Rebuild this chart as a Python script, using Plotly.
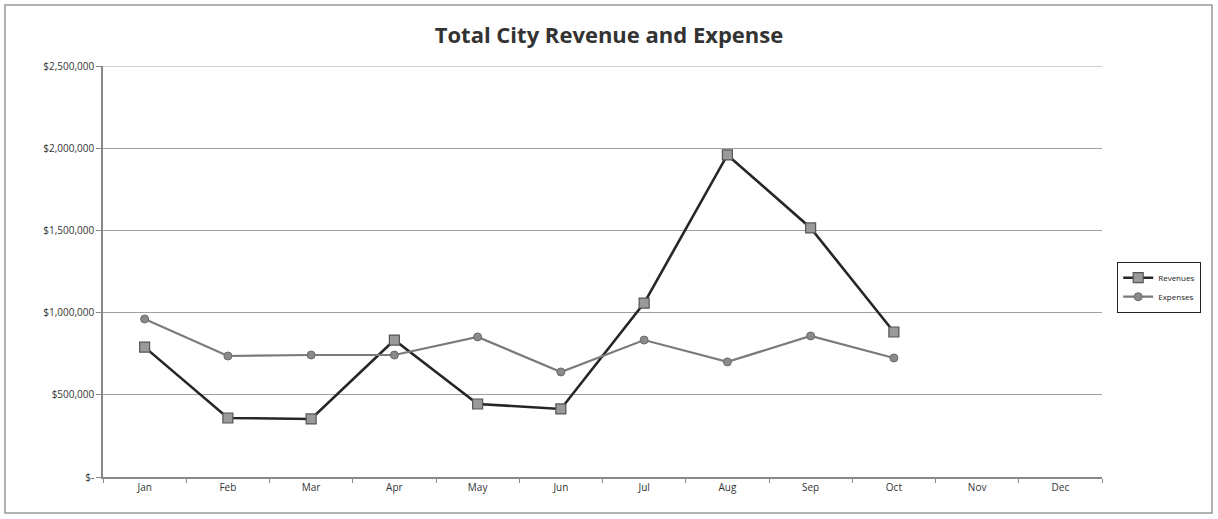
import plotly.graph_objects as go

months = ["Jan", "Feb", "Mar", "Apr", "May", "Jun", "Jul", "Aug", "Sep", "Oct", "Nov", "Dec"]
revenues = [790000, 359000, 353000, 833000, 444000, 414000, 1058000, 1959000, 1515000, 882000, None, None]
expenses = [961000, 736000, 742000, 742000, 852000, 639000, 833000, 700000, 858000, 724000, None, None]
y_ticks = [0, 500000, 1000000, 1500000, 2000000, 2500000]
y_tick_labels = ["$-", "$500,000", "$1,000,000", "$1,500,000", "$2,000,000", "$2,500,000"]

W, H = 1218, 519
L, R, T, B = 103, 116, 66, 42

fig = go.Figure()
fig.add_trace(go.Scatter(
    x=months, y=revenues, name="Revenues", mode="lines+markers",
    line=dict(color="#262626", width=2.6),
    marker=dict(symbol="square", size=10, color="#9a9a9a", line=dict(color="#555555", width=1.2)),
))
fig.add_trace(go.Scatter(
    x=months, y=expenses, name="Expenses", mode="lines+markers",
    line=dict(color="#7a7a7a", width=2.2),
    marker=dict(symbol="circle", size=8, color="#8a8a8a", line=dict(color="#6a6a6a", width=1)),
))

pw = W - L - R
ph = H - T - B
fig.update_layout(
    width=W, height=H,
    margin=dict(l=L, r=R, t=T, b=B),
    paper_bgcolor="white", plot_bgcolor="white",
    font=dict(family="'Open Sans', sans-serif", color="#333333"),
    title=dict(text="<b>Total City Revenue and Expense</b>", x=0.5, xanchor="center",
               y=1 - 35 / H, yanchor="middle",
               font=dict(family="'Open Sans', sans-serif", size=22, color="#333333")),
    showlegend=True,
    legend=dict(x=(1117 - L) / pw, y=(477 - 262) / ph, xanchor="left", yanchor="top",
                bordercolor="#222222", borderwidth=1.2, bgcolor="white",
                font=dict(size=8, color="#222222"), itemwidth=30, tracegroupgap=2),
    xaxis=dict(
        type="category", categoryorder="array", categoryarray=months,
        range=[-0.5, 11.5], showgrid=False, showline=True, linecolor="#888888", linewidth=1.5,
        ticks="outside", ticklen=4, tickcolor="#888888", tickson="boundaries",
        tickfont=dict(size=10, color="#333333"), fixedrange=True,
    ),
    yaxis=dict(
        range=[0, 2500000], tickvals=y_ticks, ticktext=y_tick_labels,
        showgrid=True, gridcolor="#a0a0a0", gridwidth=1.2,
        showline=True, linecolor="#888888", linewidth=1.5,
        ticks="outside", ticklen=5, tickcolor="#888888",
        tickfont=dict(size=10, color="#333333"), zeroline=False, fixedrange=True,
    ),
    shapes=[
        dict(type="rect", xref="paper", yref="paper",
             x0=(5 - L) / pw, x1=(1212 - L) / pw,
             y0=(477 - 513) / ph, y1=(477 - 5) / ph,
             line=dict(color="#999999", width=1.5), fillcolor="rgba(0,0,0,0)", layer="below"),
        dict(type="line", xref="paper", yref="y", x0=0, x1=1,
             y0=y_ticks[-1], y1=y_ticks[-1],
             line=dict(color="#a0a0a0", width=1.2), layer="below"),
    ],
)

fig.write_html("out.html")
